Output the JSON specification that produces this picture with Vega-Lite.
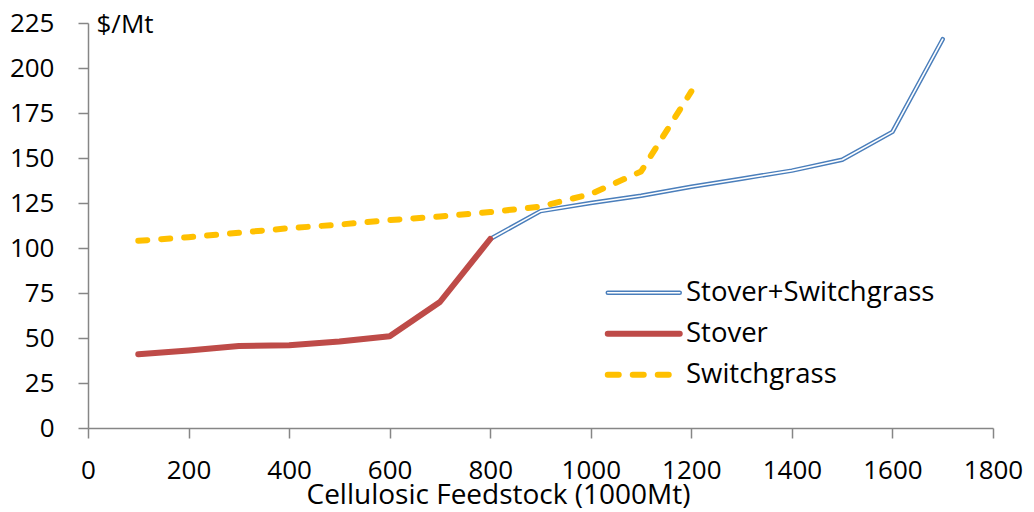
{
  "$schema": "https://vega.github.io/schema/vega-lite/v6.json",
  "width": 905,
  "height": 405,
  "autosize": "none",
  "padding": {"left": 88, "top": 23, "right": 41, "bottom": 84},
  "background": "white",
  "config": {
    "view": {"stroke": null},
    "font": "Open Sans",
    "axis": {
      "grid": false,
      "domainColor": "#868686",
      "domainWidth": 1.5,
      "tickColor": "#868686",
      "tickWidth": 1.5,
      "tickSize": 10,
      "labelFont": "Open Sans",
      "labelFontSize": 26,
      "labelColor": "#000000",
      "labelFlush": false,
      "labelOverlap": false,
      "titleFont": "Open Sans",
      "titleFontSize": 26,
      "titleFontWeight": "normal",
      "titleColor": "#000000"
    }
  },
  "data": {
    "values": [
      {"series": "Stover", "feedstock": 100, "price": 41},
      {"series": "Stover", "feedstock": 200, "price": 43},
      {"series": "Stover", "feedstock": 300, "price": 45.5},
      {"series": "Stover", "feedstock": 400, "price": 46},
      {"series": "Stover", "feedstock": 500, "price": 48},
      {"series": "Stover", "feedstock": 600, "price": 51},
      {"series": "Stover", "feedstock": 700, "price": 70},
      {"series": "Stover", "feedstock": 800, "price": 105},
      {"series": "Stover+Switchgrass", "feedstock": 800, "price": 105},
      {"series": "Stover+Switchgrass", "feedstock": 900, "price": 120.5},
      {"series": "Stover+Switchgrass", "feedstock": 1000, "price": 125},
      {"series": "Stover+Switchgrass", "feedstock": 1100, "price": 129},
      {"series": "Stover+Switchgrass", "feedstock": 1200, "price": 134},
      {"series": "Stover+Switchgrass", "feedstock": 1300, "price": 138.5},
      {"series": "Stover+Switchgrass", "feedstock": 1400, "price": 143},
      {"series": "Stover+Switchgrass", "feedstock": 1500, "price": 149},
      {"series": "Stover+Switchgrass", "feedstock": 1600, "price": 164.5},
      {"series": "Stover+Switchgrass", "feedstock": 1700, "price": 216},
      {"series": "Switchgrass", "feedstock": 100, "price": 104},
      {"series": "Switchgrass", "feedstock": 200, "price": 106},
      {"series": "Switchgrass", "feedstock": 300, "price": 108.5},
      {"series": "Switchgrass", "feedstock": 400, "price": 111},
      {"series": "Switchgrass", "feedstock": 500, "price": 113},
      {"series": "Switchgrass", "feedstock": 600, "price": 115.5},
      {"series": "Switchgrass", "feedstock": 700, "price": 117.5},
      {"series": "Switchgrass", "feedstock": 800, "price": 120},
      {"series": "Switchgrass", "feedstock": 900, "price": 123},
      {"series": "Switchgrass", "feedstock": 1000, "price": 130},
      {"series": "Switchgrass", "feedstock": 1100, "price": 142.5},
      {"series": "Switchgrass", "feedstock": 1200, "price": 187}
    ]
  },
  "encoding": {
    "x": {
      "field": "feedstock",
      "type": "quantitative",
      "scale": {"domain": [0, 1800], "nice": false},
      "axis": {
        "values": [0, 200, 400, 600, 800, 1000, 1200, 1400, 1600, 1800],
        "format": "d",
        "title": "Cellulosic Feedstock (1000Mt)",
        "labelBaseline": "alphabetic",
        "labelPadding": 40,
        "titleFontSize": 28,
        "titleX": 410,
        "titleY": 75,
        "titleBaseline": "alphabetic",
        "titleAlign": "center"
      }
    },
    "y": {
      "field": "price",
      "type": "quantitative",
      "scale": {"domain": [0, 225], "nice": false},
      "axis": {
        "values": [0, 25, 50, 75, 100, 125, 150, 175, 200, 225],
        "title": "$/Mt",
        "titleAngle": 0,
        "titleAlign": "left",
        "titleBaseline": "middle",
        "titleX": 8,
        "titleY": 1,
        "labelPadding": 24
      }
    }
  },
  "layer": [
    {
      "transform": [{"filter": "datum.series === 'Stover+Switchgrass'"}],
      "mark": {"type": "line", "strokeCap": "round", "strokeJoin": "round", "strokeWidth": 4.5},
      "encoding": {
        "color": {
          "field": "series",
          "type": "nominal",
          "scale": {
            "domain": ["Stover+Switchgrass", "Stover", "Switchgrass"],
            "range": ["#4A7EBB", "#BE4B48", "#FFC000"]
          },
          "legend": {
            "orient": "none",
            "legendX": 542,
            "legendY": 256,
            "title": null,
            "padding": 0,
            "symbolType": "M-4,0H4",
            "symbolSize": 324,
            "symbolOffset": 0,
            "labelFont": "Open Sans",
            "labelFontSize": 27.5,
            "labelColor": "#000000",
            "labelLimit": 500,
            "labelOffset": 28.5,
            "rowPadding": 12,
            "encode": {
              "symbols": {
                "update": {
                  "strokeCap": {"value": "round"},
                  "strokeWidth": {"signal": "datum.value === 'Stover+Switchgrass' ? 4.5 : 6"},
                  "strokeDash": {"signal": "datum.value === 'Switchgrass' ? [11, 14] : [1, 0]"}
                }
              }
            }
          }
        }
      }
    },
    {
      "transform": [{"filter": "datum.series === 'Stover+Switchgrass'"}],
      "mark": {"type": "line", "strokeCap": "round", "strokeJoin": "round", "strokeWidth": 1.6},
      "encoding": {
        "stroke": {
          "field": "series",
          "type": "nominal",
          "scale": {"range": ["#ffffff"]},
          "legend": {
            "orient": "none",
            "legendX": 542,
            "legendY": 256,
            "title": null,
            "padding": 0,
            "symbolType": "M-4,0H4",
            "symbolSize": 324,
            "symbolOffset": 0,
            "symbolStrokeWidth": 1.6,
            "labelFont": "Open Sans",
            "labelFontSize": 27.5,
            "labelColor": "#000000",
            "labelOpacity": 0,
            "labelLimit": 500,
            "labelOffset": 28.5,
            "rowPadding": 12,
            "encode": {"symbols": {"update": {"strokeCap": {"value": "round"}, "strokeWidth": {"value": 1.6}}}}
          }
        }
      }
    },
    {
      "transform": [{"filter": "datum.series === 'Stover'"}],
      "mark": {"type": "line", "strokeCap": "round", "strokeJoin": "round", "strokeWidth": 6},
      "encoding": {
        "color": {"field": "series", "type": "nominal"}
      }
    },
    {
      "transform": [{"filter": "datum.series === 'Switchgrass'"}],
      "mark": {"type": "line", "strokeCap": "round", "strokeJoin": "round", "strokeWidth": 6, "strokeDash": [9, 14]},
      "encoding": {
        "color": {"field": "series", "type": "nominal"}
      }
    }
  ]
}
